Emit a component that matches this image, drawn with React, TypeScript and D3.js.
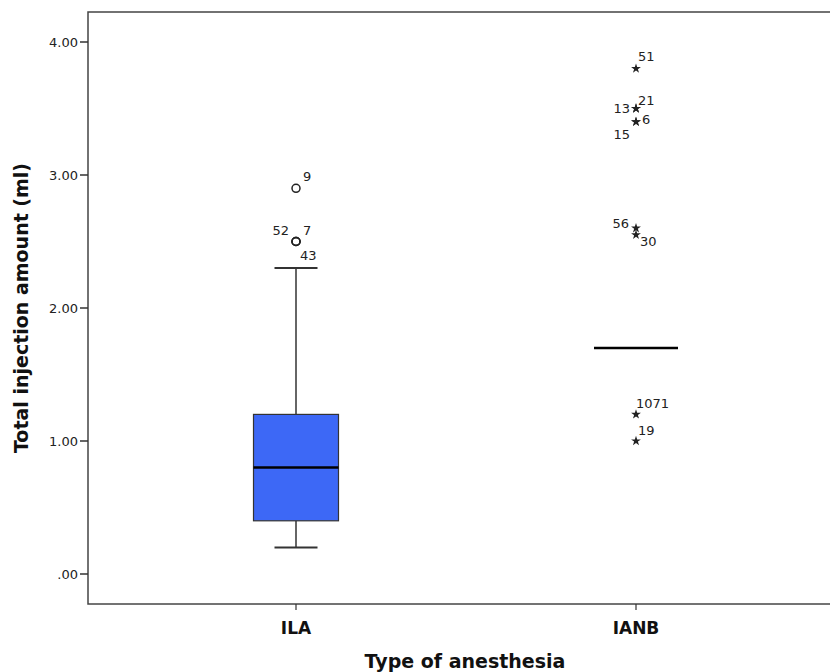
import React from "react";
import * as d3 from "d3";

const categories = ["ILA", "IANB"];
const yTicks = [0, 1, 2, 3, 4];
// ILA box stats
const ilaStats = { q1: 0.4, median: 0.8, q3: 1.2, low: 0.2, high: 2.3 };
// IANB: box collapsed to a median line
const ianbMedian = 1.7;
const ilaOutliers = [
  { id: "9", value: 2.9 },
  { id: "52", value: 2.5 },
  { id: "7", value: 2.5 },
  { id: "43", value: 2.5 },
];
const ianbExtremes = [
  { id: "51", value: 3.8 },
  { id: "21", value: 3.5 },
  { id: "13", value: 3.5 },
  { id: "6", value: 3.4 },
  { id: "15", value: 3.4 },
  { id: "56", value: 2.6 },
  { id: "30", value: 2.55 },
  { id: "1071", value: 1.2 },
  { id: "19", value: 1.0 },
];

const labelPlace: Record<string, [number, number, string]> = {
  "9": [7, -12, "start"],
  "52": [-7, -11, "end"],
  "7": [7, -11, "start"],
  "43": [4, 14, "start"],
  "51": [2, -12, "start"],
  "21": [2, -8, "start"],
  "13": [-6, 0, "end"],
  "6": [6, -2, "start"],
  "15": [-6, 13, "end"],
  "56": [-7, -5, "end"],
  "30": [4, 7, "start"],
  "1071": [0, -11, "start"],
  "19": [2, -11, "start"],
};

const W = 830, H = 672;
const left = 88, top = 12, bottom = 604, right = 900;
const font = "'DejaVu Sans', Verdana, sans-serif";

export default function App() {
  const y = d3.scaleLinear().domain([0, 4]).range([574, 42]);
  const x = d3.scalePoint<string>().domain(categories).range([296, 636]);
  const boxW = 85;
  const capW = 43;
  const star = d3.symbol().type(d3.symbolStar).size(30)();
  const fmt = (v: number) => (v === 0 ? ".00" : d3.format(".2f")(v));
  const xi = x("ILA")!;
  const xb = x("IANB")!;
  const s = ilaStats;
  return (
    <div style={{ position: "absolute", left: 0, top: 0 }}>
      <svg width={W} height={H} style={{ display: "block", background: "#fff" }} fontFamily={font}>
        {/* frame */}
        <rect x={left} y={top} width={right - left} height={bottom - top} fill="none" stroke="#444" strokeWidth={1.5} />
        {/* y ticks */}
        {yTicks.map((t) => (
          <g key={t}>
            <line x1={80} x2={left} y1={y(t)} y2={y(t)} stroke="#333" strokeWidth={1.5} />
            <text x={78} y={y(t)} dy="0.35em" textAnchor="end" fontSize={13} fill="#222">{fmt(t)}</text>
          </g>
        ))}
        {/* x ticks */}
        {categories.map((c) => (
          <g key={c}>
            <line x1={x(c)} x2={x(c)} y1={bottom} y2={bottom + 6} stroke="#333" strokeWidth={1.2} />
            <text x={x(c)} y={634} textAnchor="middle" fontSize={17} fontWeight="bold" fill="#111">{c}</text>
          </g>
        ))}
        <text x={(left + 830) / 2 + 6} y={668} textAnchor="middle" fontSize={19} fontWeight="bold" fill="#111">Type of anesthesia</text>
        <text transform={`translate(28,${y(2)}) rotate(-90)`} textAnchor="middle" fontSize={19} fontWeight="bold" fill="#111">Total injection amount (ml)</text>
        {/* ILA whiskers */}
        <line x1={xi} x2={xi} y1={y(s.q3)} y2={y(s.high)} stroke="#333" strokeWidth={1.5} />
        <line x1={xi} x2={xi} y1={y(s.q1)} y2={y(s.low)} stroke="#333" strokeWidth={1.5} />
        <line x1={xi - capW / 2} x2={xi + capW / 2} y1={y(s.high)} y2={y(s.high)} stroke="#333" strokeWidth={2} />
        <line x1={xi - capW / 2} x2={xi + capW / 2} y1={y(s.low)} y2={y(s.low)} stroke="#333" strokeWidth={2} />
        <rect x={xi - boxW / 2} y={y(s.q3)} width={boxW} height={y(s.q1) - y(s.q3)} fill="#3d68f6" stroke="#333" strokeWidth={1.2} />
        <line x1={xi - boxW / 2} x2={xi + boxW / 2} y1={y(s.median)} y2={y(s.median)} stroke="#000" strokeWidth={2.5} />
        {/* IANB median */}
        <line x1={xb - boxW / 2 + 0.5} x2={xb + boxW / 2 - 0.5} y1={y(ianbMedian)} y2={y(ianbMedian)} stroke="#000" strokeWidth={2.5} />
        {/* ILA outliers */}
        {ilaOutliers.map((o) => (
          <circle key={"c" + o.id} cx={xi} cy={y(o.value)} r={4} fill="none" stroke="#222" strokeWidth={1.5} />
        ))}
        {ilaOutliers.map((o) => {
          const [dx, dy, anchor] = labelPlace[o.id];
          return (
            <text key={"l" + o.id} x={xi + dx} y={y(o.value) + dy} dy="0.35em" textAnchor={anchor as any} fontSize={13} fill="#222">{o.id}</text>
          );
        })}
        {/* IANB extremes */}
        {ianbExtremes.map((o) => (
          <path key={"s" + o.id} d={star!} transform={`translate(${xb},${y(o.value)})`} fill="#222" />
        ))}
        {ianbExtremes.map((o) => {
          const [dx, dy, anchor] = labelPlace[o.id];
          return (
            <text key={"m" + o.id} x={xb + dx} y={y(o.value) + dy} dy="0.35em" textAnchor={anchor as any} fontSize={13} fill="#222">{o.id}</text>
          );
        })}
      </svg>
    </div>
  );
}
